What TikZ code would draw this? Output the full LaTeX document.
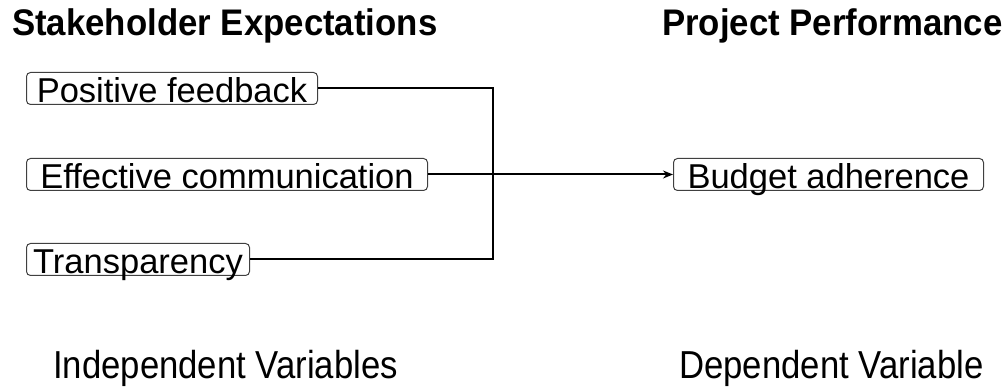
\documentclass[tikz,border=0pt]{standalone}
\usepackage{fontspec}
\setmainfont{Liberation Sans}
\newfontfamily\headfont[FakeStretch=0.94]{Liberation Sans}
\newfontfamily\footfont[FakeStretch=0.89]{Liberation Sans}
\usetikzlibrary{arrows.meta}
\tikzset{
  varbox/.style={draw=black!75, line width=1pt, rounded corners=4pt,
    inner xsep=6pt, inner ysep=0pt, text height=30pt, text depth=2pt,
    font=\fontsize{34.5}{40}\selectfont, anchor=north west},
  heading/.style={inner sep=0pt, anchor=base west,
    font=\headfont\bfseries\fontsize{37}{42}\selectfont},
  footer/.style={inner sep=0pt, anchor=base west,
    font=\footfont\fontsize{39}{44}\selectfont},
  link/.style={line width=2pt, draw=black},
}
\begin{document}
\begin{tikzpicture}[x=1pt,y=-1pt]
\useasboundingbox (0,0) rectangle (1005,387);
% headings
\node[heading] (h1) at (12,36) {Stakeholder Expectations};
\node[heading] (h2) at (662,36) {Project Performance};
% independent variable boxes
\node[varbox, minimum width=291pt] (pf) at (26,72) {Positive feedback};
\node[varbox, minimum width=401pt] (ec) at (26,158) {Effective communication};
\node[varbox, minimum width=223pt] (tr) at (26,243) {Transparency};
% dependent variable box
\node[varbox, minimum width=310pt] (ba) at (673,158) {Budget adherence};
% connectors
\coordinate (jx) at (493,0);
\draw[link] (pf.east) -- (pf.east -| jx) -- (tr.east -| jx) -- (tr.east);
\draw[link, -{Stealth[length=10pt,width=8pt]}] (ec.east) -- (ba.west);
% footers
\node[footer] (f1) at (53,379) {Independent Variables};
\node[footer] (f2) at (679,379) {Dependent Variable};
\end{tikzpicture}
\end{document}
